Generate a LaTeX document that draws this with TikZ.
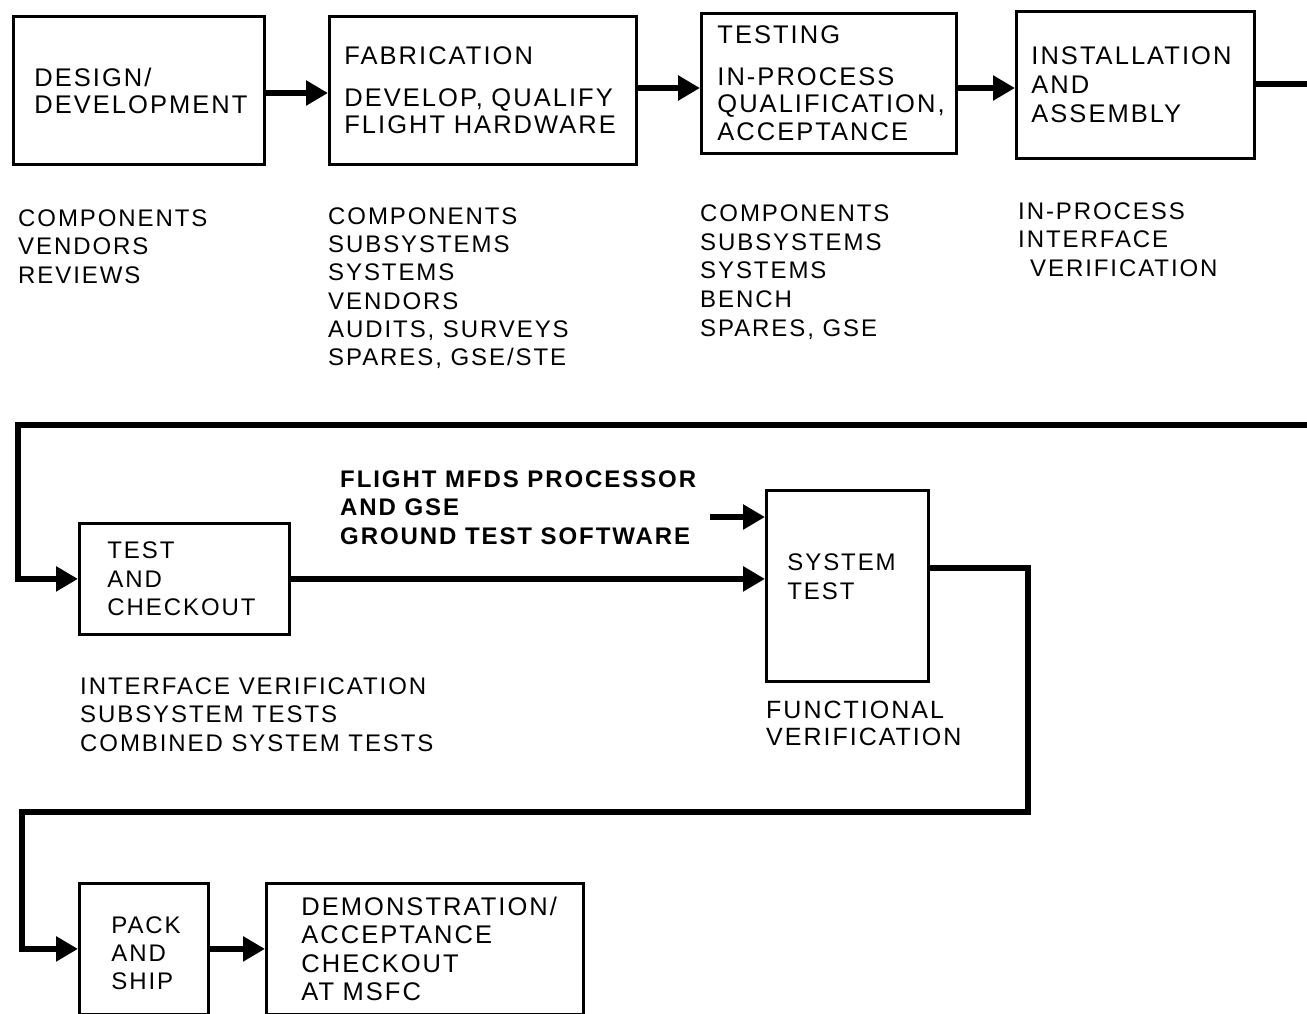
\documentclass[tikz,border=0pt]{standalone}
\usepackage{fontspec}
\setmainfont{Liberation Sans}[LetterSpace=8]
\usetikzlibrary{arrows.meta}
\begin{document}
\begin{tikzpicture}[x=1pt,y=-1pt,
  box/.style={draw, line width=2.8pt, anchor=north west, align=left, inner ysep=0pt,
              font=\fontsize{24}{27}\selectfont},
  bigbox/.style={box, font=\fontsize{25.5}{27}\selectfont},
  conn/.style={line width=6.5pt, line join=miter, -{Triangle[length=22pt,width=24pt]}},
  plainline/.style={line width=6.5pt, line join=miter},
  txt/.style={anchor=north west, inner sep=0pt, align=left, font=\fontsize{24}{28.5}\selectfont},
]
\useasboundingbox (0,0) rectangle (1307,1013);

% ---- row 1 boxes
\node[bigbox, inner xsep=21pt, text width=209pt, minimum height=148pt] (design) at (12,15)
  {DESIGN/\\DEVELOPMENT};
\node[bigbox, inner xsep=15pt, text width=277pt, minimum height=148pt] (fab) at (328,15)
  {FABRICATION\\[15pt]DEVELOP, QUALIFY\\FLIGHT HARDWARE};
\node[bigbox, inner xsep=16pt, text width=223pt, minimum height=140pt, font=\fontsize{25.5}{27.5}\selectfont] (testing) at (700,12)
  {TESTING\\[14pt]IN-PROCESS\\QUALIFICATION,\\ACCEPTANCE};
\node[bigbox, inner xsep=15pt, text width=208pt, minimum height=147pt, font=\fontsize{25.5}{29}\selectfont] (install) at (1015,10)
  {INSTALLATION\\AND\\ASSEMBLY};

% ---- row 1 lists
\node[txt] (designlist) at (18,209.5) {COMPONENTS\\VENDORS\\REVIEWS};
\node[txt, font=\fontsize{24}{28.2}\selectfont] (fablist) at (328,207.5)
  {COMPONENTS\\SUBSYSTEMS\\SYSTEMS\\VENDORS\\AUDITS, SURVEYS\\SPARES, GSE/STE};
\node[txt, font=\fontsize{24}{28.75}\selectfont] (testlist) at (700,204.5)
  {COMPONENTS\\SUBSYSTEMS\\SYSTEMS\\BENCH\\SPARES, GSE};
\node[txt] (installlist) at (1018,202.5)
  {IN-PROCESS\\INTERFACE\\\hspace*{12pt}VERIFICATION};

% ---- row 1 connectors
\coordinate (edgeA) at (1307,84);
\coordinate (edgeB) at (1307,425);
\coordinate (yA) at (0,93);
\coordinate (yB) at (0,88);
\draw[conn] (design.east |- yA) -- (fab.west |- yA);
\draw[conn] (fab.east |- yB) -- (testing.west |- yB);
\draw[conn] (testing.east |- yB) -- (install.west |- yB);
\draw[plainline] (install.east |- edgeA) -- (edgeA);

% ---- row 2
\node[box, inner xsep=28pt, text width=154pt, minimum height=111pt, font=\fontsize{24}{28.5}\selectfont] (test) at (78,522)
  {TEST\\AND\\CHECKOUT};
\node[box, inner xsep=21pt, text width=120pt, minimum height=191pt, text depth=48pt, font=\fontsize{24}{29}\selectfont] (system) at (765,489)
  {SYSTEM\\TEST};

\node[txt, font=\bfseries\fontsize{24}{28.5}\selectfont] (flightlbl) at (340,470.5)
  {FLIGHT MFDS PROCESSOR\\AND GSE\\GROUND TEST SOFTWARE};
\node[txt] (testlist2) at (80,677.5)
  {INTERFACE VERIFICATION\\SUBSYSTEM TESTS\\COMBINED SYSTEM TESTS};
\node[txt, font=\fontsize{25}{27}\selectfont] (syslist) at (766,701)
  {FUNCTIONAL\\VERIFICATION};

\coordinate (cornerA) at (18,500);
\draw[conn] (edgeB) -| (cornerA) |- (test.west);
\draw[conn] (test.east) -- (test.east -| system.west);
\coordinate (lblend) at (710,517);
\draw[conn] (lblend) -- (system.west |- lblend);

% ---- row 3
\node[box, inner xsep=32pt, text width=65pt, minimum height=131pt, text depth=48pt, font=\fontsize{24}{28}\selectfont] (pack) at (78,882)
  {PACK\\AND\\SHIP};
\node[bigbox, inner xsep=35pt, text width=247pt, minimum height=131pt, font=\fontsize{25.5}{28.5}\selectfont] (demo) at (265,882)
  {DEMONSTRATION/\\ACCEPTANCE\\CHECKOUT\\AT MSFC};

\coordinate (sysout) at (0,568);
\coordinate (cornerB) at (1028,700);
\coordinate (cornerC) at (22,880);
\coordinate (yC) at (0,812);
\draw[conn] (system.east |- sysout) -| (cornerB) |- (yC -| cornerC) |- (pack.west);
\draw[conn] (pack.east) -- (pack.east -| demo.west);
\end{tikzpicture}
\end{document}
